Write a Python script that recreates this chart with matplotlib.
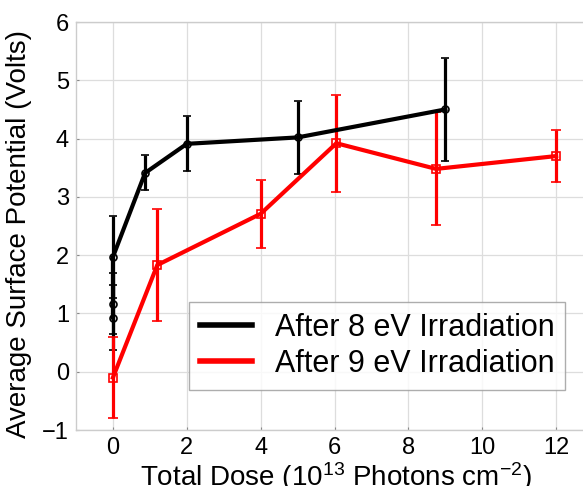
import matplotlib
matplotlib.use("Agg")
import matplotlib.pyplot as plt
from matplotlib.lines import Line2D

plt.rcParams['font.family'] = ['Liberation Sans', 'DejaVu Sans']
plt.rcParams['mathtext.default'] = 'regular'

# After 8 eV irradiation (black)
dose_8ev = [0, 0, 0, 0.87, 2, 5, 9]
pot_8ev = [0.93, 1.17, 1.97, 3.41, 3.91, 4.02, 4.50]
err_8ev = [0.56, 0.53, 0.71, 0.30, 0.47, 0.63, 0.89]

# After 9 eV irradiation (red)
dose_9ev = [0, 1.2, 4, 6.05, 8.75, 12]
pot_9ev = [-0.10, 1.83, 2.71, 3.92, 3.48, 3.70]
err_9ev = [0.70, 0.96, 0.58, 0.83, 0.97, 0.45]

x_ticks = [0, 2, 4, 6, 8, 10, 12]
y_ticks = [-1, 0, 1, 2, 3, 4, 5, 6]

fig = plt.figure(figsize=(5.83, 4.86), dpi=100)
ax = fig.add_axes([0.1304, 0.1152, 0.8868, 0.8395])

ax.errorbar(dose_8ev, pot_8ev, yerr=err_8ev, color='black', lw=3,
            elinewidth=2.3, capsize=3, capthick=2.3, marker='o', ms=5,
            mfc='none', mew=1.2, zorder=3)
ax.errorbar(dose_9ev, pot_9ev, yerr=err_9ev, color='red', lw=3,
            elinewidth=2.3, capsize=3.3, capthick=2.3, marker='s', ms=6,
            mfc='none', mew=1.2, zorder=3)

ax.set_xlim(-1, 13)
ax.set_ylim(-1, 6)
ax.set_xticks(x_ticks)
ax.set_yticks(y_ticks)
ax.tick_params(labelsize=17, direction='in', length=2, color='#888888', pad=5)
ax.grid(True, color='#dddddd', lw=0.9)
for s in ax.spines.values():
    s.set_color('#cccccc')
    s.set_linewidth(1)

ax.set_xlabel('Total Dose (10$^{13}$ Photons cm$^{-2}$)', fontsize=20, labelpad=0)
ax.xaxis.set_label_coords(0.503, -0.073, transform=ax.transAxes)
ax.xaxis.label.set_va('top')
ax.set_ylabel('Average Surface Potential (Volts)', fontsize=20)
ax.yaxis.set_label_coords(-0.085, 0.48)

handles = [Line2D([], [], color='black', lw=4),
           Line2D([], [], color='red', lw=4)]
leg = ax.legend(handles, ['After 8 eV Irradiation', 'After 9 eV Irradiation'],
                loc='upper left', bbox_to_anchor=(0.2186, 0.3137),
                borderaxespad=0, fontsize=22, frameon=True, fancybox=False,
                edgecolor='#999999', handlelength=1.7, borderpad=0.35,
                labelspacing=0.2, handletextpad=0.75)
leg.get_frame().set_linewidth(1)

fig.savefig('out.png', dpi=100)
